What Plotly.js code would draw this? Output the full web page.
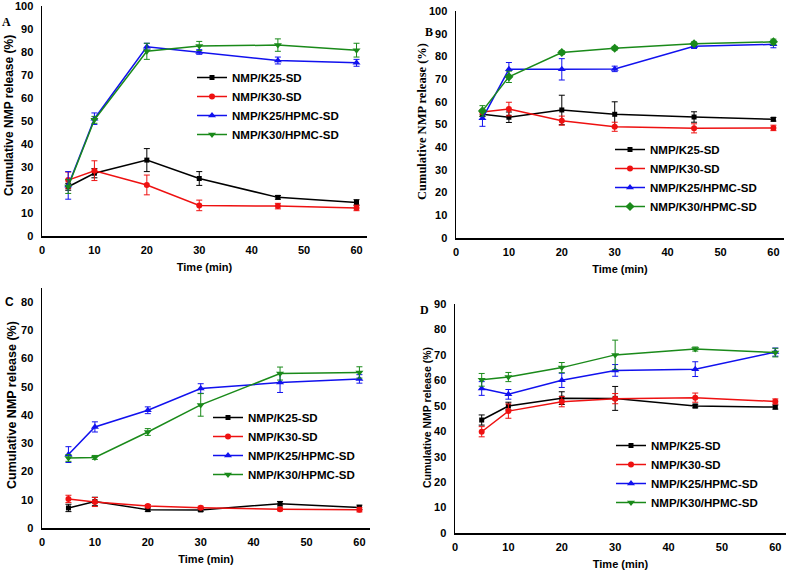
<!DOCTYPE html>
<html>
<head>
<meta charset="utf-8">
<script src="https://cdn.plot.ly/plotly-3.0.1.min.js"></script>
<style>html,body{margin:0;padding:0;background:#fff;}#chart{width:789px;height:571px;}</style>
</head>
<body>
<div id="chart"></div>
<script>
// ---------- DATA ----------
const time = [5, 10, 20, 30, 45, 60];
const seriesNames = ["NMP/K25-SD", "NMP/K30-SD", "NMP/K25/HPMC-SD", "NMP/K30/HPMC-SD"];
const panelLabels = ["A", "B", "C", "D"];
const xTitle = "Time (min)";
const yTitle = "Cumulative NMP release (%)";

// Panel A
const A_K25 = [21.4, 27.3, 33.0, 25.0, 16.8, 14.6];
const A_K25_err = [1.5, 2.0, 5.0, 3.0, 0.8, 1.2];
const A_K30 = [24.3, 28.4, 22.2, 13.3, 13.0, 12.2];
const A_K30_err = [3.5, 4.3, 4.3, 2.3, 1.2, 1.2];
const A_K25H = [22.0, 51.0, 82.3, 80.0, 76.3, 75.3];
const A_K25H_err = [6.0, 2.5, 1.5, 1.0, 1.5, 1.5];
const A_K30H = [21.5, 50.5, 80.3, 82.6, 83.0, 80.8];
const A_K30H_err = [3.0, 1.5, 3.5, 2.0, 2.7, 3.0];

// Panel B
const B_K25 = [54.5, 53.2, 56.4, 54.5, 53.3, 52.3];
const B_K25_err = [1.0, 2.3, 6.5, 5.5, 2.3, 0.8];
const B_K30 = [55.5, 56.8, 51.7, 49.0, 48.3, 48.5];
const B_K30_err = [1.0, 3.0, 2.0, 2.0, 2.0, 1.2];
const B_K25H = [52.7, 74.3, 74.3, 74.5, 84.5, 85.3];
const B_K25H_err = [3.5, 3.0, 4.7, 1.2, 1.0, 1.5];
const B_K30H = [56.0, 71.0, 81.7, 83.6, 85.6, 86.4];
const B_K30H_err = [2.3, 2.5, 0.8, 0.8, 0.8, 1.2];

// Panel C
const C_K25 = [7.1, 9.4, 6.5, 6.4, 8.6, 7.3];
const C_K25_err = [1.3, 1.5, 0.6, 0.5, 0.8, 0.8];
const C_K30 = [10.3, 9.2, 7.8, 7.2, 6.6, 6.5];
const C_K30_err = [1.3, 1.6, 0.5, 0.5, 0.5, 0.8];
const C_K25H = [26.0, 35.8, 41.7, 49.4, 51.5, 52.8];
const C_K25H_err = [2.8, 1.8, 1.2, 1.7, 3.5, 1.5];
const C_K30H = [24.8, 25.0, 34.0, 43.6, 54.7, 55.1];
const C_K30H_err = [1.2, 0.7, 1.2, 4.0, 2.3, 2.0];

// Panel D
const D_K25 = [44.4, 49.9, 53.0, 52.9, 49.9, 49.5];
const D_K25_err = [2.0, 1.5, 2.5, 4.7, 0.7, 0.8];
const D_K30 = [39.8, 47.9, 51.6, 52.8, 53.2, 51.7];
const D_K30_err = [2.0, 2.8, 2.0, 2.0, 1.8, 1.0];
const D_K25H = [56.8, 54.5, 60.0, 63.9, 64.4, 71.1];
const D_K25H_err = [2.7, 1.9, 2.8, 2.3, 2.9, 1.6];
const D_K30H = [60.2, 61.3, 65.0, 70.0, 72.3, 70.9];
const D_K30H_err = [2.5, 1.8, 2.0, 5.8, 0.8, 1.7];

// ---------- STYLE ----------
const colors = ["#000000", "#ee1111", "#1111ee", "#1a8a1a"];
const sans = "Liberation Sans, Arial, sans-serif";
const serif = "Liberation Serif, Times New Roman, serif";

const panels = [
  {vals: [A_K25, A_K30, A_K25H, A_K30H], errs: [A_K25_err, A_K30_err, A_K25H_err, A_K30H_err],
   greenSym: "triangle-down", xa: "x", ya: "y", leg: "legend"},
  {vals: [B_K25, B_K30, B_K25H, B_K30H], errs: [B_K25_err, B_K30_err, B_K25H_err, B_K30H_err],
   greenSym: "diamond", xa: "x2", ya: "y2", leg: "legend2"},
  {vals: [C_K25, C_K30, C_K25H, C_K30H], errs: [C_K25_err, C_K30_err, C_K25H_err, C_K30H_err],
   greenSym: "triangle-down", xa: "x3", ya: "y3", leg: "legend3"},
  {vals: [D_K25, D_K30, D_K25H, D_K30H], errs: [D_K25_err, D_K30_err, D_K25H_err, D_K30H_err],
   greenSym: "triangle-down", xa: "x4", ya: "y4", leg: "legend4"}
];

const traces = [];
panels.forEach(p => {
  const syms = ["square", "circle", "triangle-up", p.greenSym];
  const sizes = [5, 6, 7, 7];
  for (let i = 0; i < 4; i++) {
    traces.push({
      type: "scatter", mode: "lines+markers",
      x: time, y: p.vals[i], name: seriesNames[i],
      xaxis: p.xa, yaxis: p.ya, legend: p.leg,
      line: {color: colors[i], width: 1.5},
      marker: {color: colors[i], symbol: syms[i], size: sizes[i]},
      error_y: {type: "data", array: p.errs[i], visible: true, color: colors[i], thickness: 1, width: 3}
    });
  }
});

const W = 789, H = 571;

function xaxis(dom, anchor) {
  return {domain: dom, anchor: anchor, range: [0, 62], dtick: 10, tick0: 0,
    showline: true, linecolor: "#000", linewidth: 1.5, showgrid: false, zeroline: false,
    ticks: "", ticklabelstandoff: 3, ticklabeloverflow: "allow",
    tickfont: {family: sans, size: 11, color: "#000", weight: "bold"},
    title: {text: xTitle, font: {family: sans, size: 11, color: "#000", weight: "bold"}, standoff: 8}};
}
function yaxis(dom, anchor, maxv) {
  return {domain: dom, anchor: anchor, range: [0, maxv], dtick: 10, tick0: 0,
    showline: true, linecolor: "#000", linewidth: 1.5, showgrid: false, zeroline: false,
    ticks: "", ticklabelstandoff: 5, ticklabeloverflow: "allow",
    tickfont: {family: sans, size: 11, color: "#000", weight: "bold"}};
}
function legend(x, y) {
  return {x: x, y: y, xanchor: "left", yanchor: "middle", xref: "paper", yref: "paper",
    bgcolor: "rgba(0,0,0,0)", borderwidth: 0, tracegroupgap: 0, itemwidth: 30,
    font: {family: sans, size: 11.5, color: "#000", weight: "bold"}};
}
function label(txt, px, py, fam, size, angle) {
  return {text: txt, x: px / W, y: (H - py) / H, xref: "paper", yref: "paper", showarrow: false,
    xanchor: "center", yanchor: "middle", textangle: angle || 0,
    font: {family: fam, size: size, color: "#000", weight: "bold"}};
}

const layout = {
  width: W, height: H, margin: {l: 0, r: 0, t: 0, b: 0},
  paper_bgcolor: "#fff", plot_bgcolor: "#fff", showlegend: true,
  xaxis: xaxis([42 / W, 367 / W], "y"),
  yaxis: yaxis([(H - 236) / H, (H - 6) / H], "x", 100),
  xaxis2: xaxis([456 / W, 784 / W], "y2"),
  yaxis2: yaxis([(H - 238) / H, (H - 11) / H], "x2", 100),
  xaxis3: xaxis([42 / W, 370 / W], "y3"),
  yaxis3: yaxis([(H - 528) / H, (H - 288) / H], "x3", 85),
  xaxis4: xaxis([455 / W, 786 / W], "y4"),
  yaxis4: yaxis([(H - 533) / H, (H - 304) / H], "x4", 90),
  legend: legend(192 / W, (H - 106) / H),
  legend2: legend(610 / W, (H - 178) / H),
  legend3: legend(208 / W, (H - 446) / H),
  legend4: legend(611 / W, (H - 474) / H),
  annotations: [
    label(panelLabels[0], 6, 22, serif, 12),
    label(panelLabels[1], 429, 32, serif, 12),
    label(panelLabels[2], 9, 302, sans, 12),
    label(panelLabels[3], 424, 310, serif, 12),
    label(yTitle, 9, 116, sans, 12, -90),
    label(yTitle, 422, 122, serif, 12.5, -90),
    label(yTitle, 12, 405, sans, 12.5, -90),
    label(yTitle, 427, 418, sans, 10.5, -90)
  ]
};

Plotly.newPlot("chart", traces, layout, {staticPlot: true, displayModeBar: false});
</script>
</body>
</html>
